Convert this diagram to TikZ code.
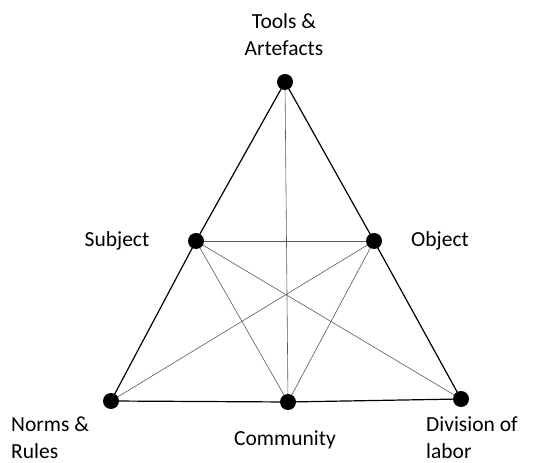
\documentclass[tikz,border=0pt]{standalone}
\usepackage{fontspec}
\setmainfont{Carlito}
\usepackage{tikz}

\begin{document}
\begin{tikzpicture}[x=1pt,y=1pt]
\useasboundingbox (0,0) rectangle (533,463);

\coordinate (tools) at (285,381);
\coordinate (subject) at (196,222);
\coordinate (object) at (374,222);
\coordinate (norms) at (111,62);
\coordinate (community) at (288,61);
\coordinate (division) at (461,64);

\draw[gray!70!black,line width=0.6pt] (tools) -- (community);
\draw[gray!70!black,line width=0.6pt] (subject) -- (object);
\draw[gray!70!black,line width=0.6pt] (subject) -- (community);
\draw[gray!70!black,line width=0.6pt] (subject) -- (division);
\draw[gray!70!black,line width=0.6pt] (object) -- (norms);
\draw[gray!70!black,line width=0.6pt] (object) -- (community);

\draw[black,line width=1.2pt] (tools) -- (subject) -- (norms) -- (community) -- (division) -- (object) -- cycle;

\foreach \p in {tools,subject,object,norms,community,division}
  \fill[black] (\p) circle (8);

\node[align=center,font=\fontsize{21.5}{27}\selectfont] (toolslbl) at (284,428) {Tools \&\\Artefacts};
\node[font=\fontsize{21.5}{27}\selectfont] (subjectlbl) at (117,222) {Subject};
\node[font=\fontsize{21.5}{27}\selectfont] (objectlbl) at (440,222) {Object};
\node[align=left,anchor=west,inner sep=0pt,font=\fontsize{21.5}{27}\selectfont] (normslbl) at (11,25) {Norms \&\\Rules};
\node[font=\fontsize{21.5}{27}\selectfont] (communitylbl) at (285,23) {Community};
\node[align=left,anchor=west,inner sep=0pt,font=\fontsize{21.5}{27}\selectfont] (divisionlbl) at (426,25) {Division of\\labor};

\end{tikzpicture}
\end{document}
